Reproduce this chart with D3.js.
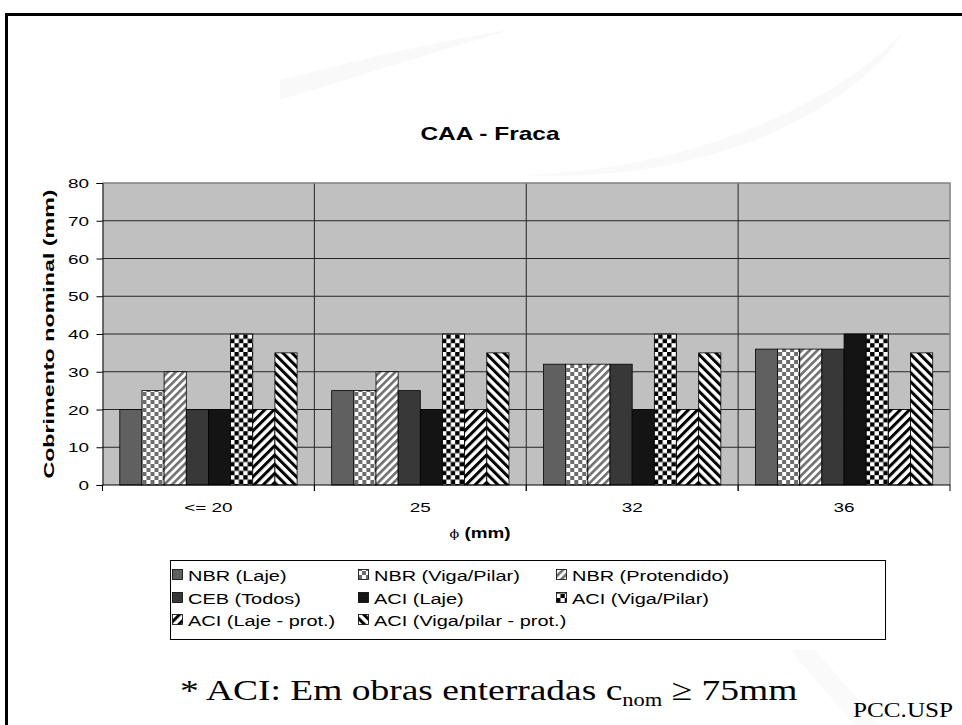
<!DOCTYPE html>
<html>
<head>
<meta charset="utf-8">
<script src="https://cdn.jsdelivr.net/npm/d3@7"></script>
<style>
  body { margin: 0; background: #fff; }
  svg { display: block; }
</style>
</head>
<body>
<div id="chart"></div>
<script>
// data
const categories = ["<= 20", "25", "32", "36"];
const seriesNames = ["NBR (Laje)", "NBR (Viga/Pilar)", "NBR (Protendido)", "CEB (Todos)",
                     "ACI (Laje)", "ACI (Viga/Pilar)", "ACI (Laje - prot.)", "ACI (Viga/pilar - prot.)"];
const nbrLaje     = [20, 25, 32, 36];
const nbrViga     = [25, 25, 32, 36];
const nbrProt     = [30, 30, 32, 36];
const cebTodos    = [20, 25, 32, 36];
const aciLaje     = [20, 20, 20, 40];
const aciViga     = [40, 40, 40, 40];
const aciLajeProt = [20, 20, 20, 20];
const aciVigaProt = [35, 35, 35, 35];
const yTicks = [0, 10, 20, 30, 40, 50, 60, 70, 80];

const seriesValues = [nbrLaje, nbrViga, nbrProt, cebTodos, aciLaje, aciViga, aciLajeProt, aciVigaProt];
const seriesFill = ["#606060", "url(#chkGray)", "url(#diagGray)", "#383838",
                    "#141414", "url(#chkBlack)", "url(#diagBlack)", "url(#backBlack)"];

const W = 962, H = 725;
const SX = 1.4; // text in the original is stretched horizontally
const plot = { left: 102.5, right: 950, top: 183, bottom: 485 };

const svg = d3.select('#chart').append('svg')
    .attr('width', W)
    .attr('height', H);

// patterns
const defs = svg.append('defs');
function checker(id, color, s) {
  const p = defs.append('pattern').attr('id', id)
    .attr('patternUnits', 'userSpaceOnUse').attr('width', s * 2).attr('height', s * 2);
  p.append('rect').attr('width', s * 2).attr('height', s * 2).attr('fill', '#fff');
  p.append('rect').attr('width', s).attr('height', s).attr('fill', color);
  p.append('rect').attr('x', s).attr('y', s).attr('width', s).attr('height', s).attr('fill', color);
}
function stripes(id, color, period, thick, angle) {
  const p = defs.append('pattern').attr('id', id)
    .attr('patternUnits', 'userSpaceOnUse').attr('width', period).attr('height', period)
    .attr('patternTransform', `rotate(${angle})`);
  p.append('rect').attr('width', period).attr('height', period).attr('fill', '#fff');
  p.append('rect').attr('width', thick).attr('height', period).attr('fill', color);
}
checker('chkGray', '#6c6c6c', 4);
checker('chkBlack', '#000', 4.4);
stripes('diagGray', '#707070', 5.5, 2.6, 45);
stripes('diagBlack', '#000', 6.5, 3, 45);
stripes('backBlack', '#000', 6.5, 3, -45);

// faint background swooshes
svg.append('path')
  .attr('d', 'M280,80 C360,60 440,40 510,30 C450,48 370,72 280,100 Z')
  .attr('fill', '#f9f9f9');
svg.append('path')
  .attr('d', 'M520,175 C700,170 840,100 905,30 C850,115 700,185 520,175 Z')
  .attr('fill', '#f9f9f9');
svg.append('path')
  .attr('d', 'M790,650 L815,650 L880,725 L855,725 Z')
  .attr('fill', '#fafafa');

// frame
svg.append('rect')
  .attr('x', 6.5).attr('y', 14.5)
  .attr('width', 980).attr('height', 760)
  .attr('fill', 'none').attr('stroke', '#000').attr('stroke-width', 3);

// scales
const x0 = d3.scaleBand().domain(categories).range([plot.left, plot.right]).padding(0);
const x1 = d3.scaleBand().domain(seriesNames).range([0, x0.bandwidth()])
  .paddingInner(0).paddingOuter(0.78);
const y = d3.scaleLinear().domain([0, 80]).range([plot.bottom, plot.top]);

// plot background
svg.append('rect')
  .attr('x', plot.left).attr('y', plot.top)
  .attr('width', plot.right - plot.left).attr('height', plot.bottom - plot.top)
  .attr('fill', '#c0c0c0');

// horizontal grid
svg.append('g').selectAll('line')
  .data(yTicks.filter(d => d > 0 && d < 80))
  .enter().append('line')
  .attr('x1', plot.left).attr('x2', plot.right)
  .attr('y1', d => y(d)).attr('y2', d => y(d))
  .attr('stroke', '#262626').attr('stroke-width', 1);

// vertical category separators
svg.append('g').selectAll('line')
  .data(categories.slice(1))
  .enter().append('line')
  .attr('x1', d => x0(d)).attr('x2', d => x0(d))
  .attr('y1', plot.top).attr('y2', plot.bottom + 6)
  .attr('stroke', '#262626').attr('stroke-width', 1);

// plot border top / right
svg.append('path')
  .attr('d', `M${plot.left},${plot.top}H${plot.right}V${plot.bottom}`)
  .attr('fill', 'none').attr('stroke', '#808080').attr('stroke-width', 1.5);

// bars
const groups = svg.append('g').selectAll('g')
  .data(categories)
  .enter().append('g')
  .attr('transform', d => `translate(${x0(d)},0)`);

groups.selectAll('rect')
  .data((c, ci) => seriesNames.map((s, si) => ({ s, si, v: seriesValues[si][ci] })))
  .enter().append('rect')
  .attr('x', d => x1(d.s))
  .attr('y', d => y(d.v))
  .attr('width', x1.bandwidth())
  .attr('height', d => y(0) - y(d.v))
  .attr('fill', d => seriesFill[d.si])
  .attr('stroke', '#000')
  .attr('stroke-width', 0.8);

// axes
const yAxis = svg.append('g')
  .attr('transform', `translate(${plot.left},0)`)
  .call(d3.axisLeft(y).tickValues(yTicks).tickSize(6).tickFormat(''));
yAxis.select('.domain').attr('stroke', '#000');
yAxis.selectAll('line').attr('stroke', '#000');

svg.append('line')
  .attr('x1', plot.left).attr('x2', plot.right)
  .attr('y1', plot.bottom).attr('y2', plot.bottom)
  .attr('stroke', '#000').attr('stroke-width', 1);
svg.append('g').selectAll('line')
  .data(categories)
  .enter().append('line')
  .attr('x1', d => x0(d)).attr('x2', d => x0(d))
  .attr('y1', plot.bottom).attr('y2', plot.bottom + 6)
  .attr('stroke', '#000');
svg.append('line')
  .attr('x1', plot.right).attr('x2', plot.right)
  .attr('y1', plot.bottom).attr('y2', plot.bottom + 6)
  .attr('stroke', '#000');

// stretched text helper
function label(x, yy, str, opts) {
  opts = opts || {};
  const t = svg.append('text')
    .attr('transform', `translate(${x},${yy}) rotate(${opts.rotate || 0}) scale(${opts.sx || SX},1)`)
    .attr('text-anchor', opts.anchor || 'middle')
    .style('font-family', opts.family || '"Liberation Sans", Arial, sans-serif')
    .style('font-size', (opts.size || 13) + 'px')
    .style('font-weight', opts.weight || 'normal')
    .style('fill', '#000');
  if (str !== null) t.text(str);
  return t;
}

// y tick labels
yTicks.forEach(v => label(89, y(v) + 5, String(v), { anchor: 'end', size: 13.5 }));

// x tick labels
categories.forEach(c => label(x0(c) + x0.bandwidth() / 2, 512, c, { size: 13.5 }));

// titles
label(490, 140, 'CAA - Fraca', { size: 18, weight: 'bold', sx: 1.36 });
label(54, 334, 'Cobrimento nominal (mm)', { size: 15.5, weight: 'bold', rotate: -90, sx: 1.5 });
const xt = label(480, 538, null, { size: 14.5, weight: 'bold', sx: 1.3 });
xt.append('tspan').style('font-weight', 'normal').style('font-family', '"DejaVu Serif", serif')
  .style('font-size', '11px').text('ϕ');
xt.append('tspan').text(' (mm)');

// legend
svg.append('rect')
  .attr('x', 170.5).attr('y', 560.5)
  .attr('width', 715).attr('height', 79)
  .attr('fill', '#fff').attr('stroke', '#000').attr('stroke-width', 1);

const legCols = [172, 358, 556];
const legRows = [575, 598, 620];
const legend = svg.append('g').selectAll('g')
  .data(seriesNames)
  .enter().append('g')
  .attr('transform', (d, i) => `translate(${legCols[i % 3]},${legRows[Math.floor(i / 3)]})`);
legend.append('rect')
  .attr('x', 0.5).attr('y', -5.5)
  .attr('width', 10).attr('height', 10)
  .attr('fill', (d, i) => seriesFill[i])
  .attr('stroke', '#000').attr('stroke-width', 0.8);
legend.each(function (d) {
  d3.select(this).append('text')
    .attr('transform', `translate(16,6) scale(1.33,1)`)
    .style('font-family', '"Liberation Sans", Arial, sans-serif')
    .style('font-size', '15px')
    .text(d);
});

// footnote
const fn = label(180, 700, null, { anchor: 'start', sx: 1.25, size: 30,
  family: '"Liberation Serif", "Times New Roman", serif' });
fn.append('tspan').text('* ACI: Em obras enterradas c');
fn.append('tspan').attr('dy', 6).style('font-size', '18px').text('nom');
fn.append('tspan').attr('dy', -6).text(' ≥ 75mm');

label(853, 717, 'PCC.USP', { anchor: 'start', sx: 1.2, size: 21,
  family: '"Liberation Serif", "Times New Roman", serif' });
</script>
</body>
</html>
